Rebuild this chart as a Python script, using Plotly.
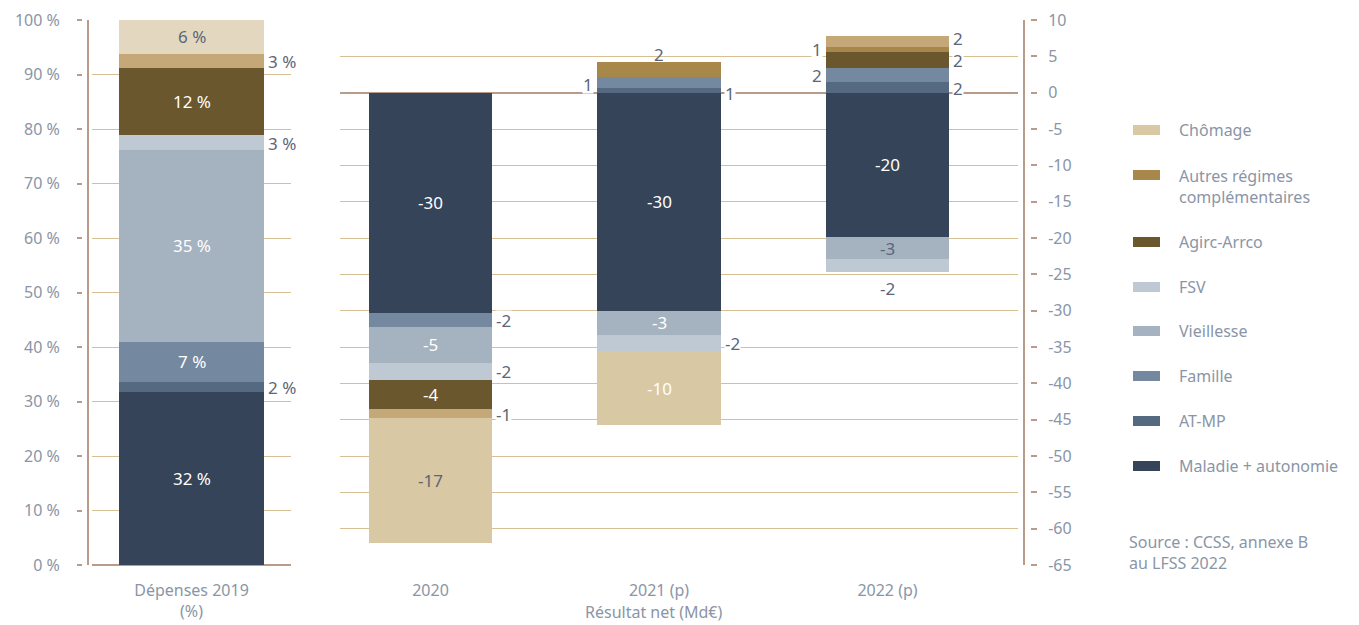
import plotly.graph_objects as go

# ---------------- data ----------------
series = ["Maladie + autonomie", "AT-MP", "Famille", "Vieillesse", "FSV",
          "Agirc-Arrco", "Autres régimes complémentaires", "Chômage"]
legend_labels = ["Maladie + autonomie", "AT-MP", "Famille", "Vieillesse", "FSV",
                 "Agirc-Arrco", "Autres régimes<br>complémentaires", "Chômage"]

left_category = ["Dépenses 2019<br>(%)"]
depenses_2019 = [31.7, 1.9, 7.4, 35.1, 2.8, 12.3, 2.6, 6.2]

years = ["2020", "2021 (p)", "2022 (p)"]
maladie = [-30.3, -30.0, -19.9]
at_mp = [0.0, 0.7, 1.5]
famille = [-1.9, 1.4, 1.9]
vieillesse = [-5.0, -3.3, -3.0]
fsv = [-2.3, -2.3, -1.8]
agirc_arrco = [-4.1, 0.0, 2.2]
autres_regimes = [-1.2, 2.1, 0.7]
chomage = [-17.2, -10.2, 1.5]
resultats = [maladie, at_mp, famille, vieillesse, fsv, agirc_arrco, autres_regimes, chomage]

right_ticks = list(range(-65, 11, 5))

source_text = "Source : CCSS, annexe B<br>au LFSS 2022"
x_title = "Résultat net (Md€)"

# ---------------- styles ----------------
W, H = 1359, 625
MT, MB = 20, 60
PH = H - MT - MB

base_colors = ["#354458", "#556980", "#74889f", "#a5b2bf", "#bfc9d3",
               "#6b572e", "#a8884a", "#d8c8a4"]
left_colors = ["#354458", "#556980", "#74889f", "#a5b2bf", "#bfc9d3",
               "#6b572e", "#c4a878", "#e3d8bf"]
right_colors = [[c] * 3 for c in base_colors]
right_colors[6] = ["#c4a878", "#a8884a", "#a8884a"]
right_colors[7] = ["#d8c8a4", "#d8c8a4", "#c4a878"]

FONT = "Noto Sans"
TICK_COL = "#8a95a6"
LABEL_COL = "#5b6679"
GRID_COL = "#d6bf93"
BROWN = "#b99b8a"

W_LEFT = 0.73
W_RIGHT = 0.54

fig = go.Figure()

for i, name in enumerate(series):
    fig.add_trace(go.Bar(x=left_category, y=[depenses_2019[i]], name=name,
                         marker=dict(color=left_colors[i], line=dict(width=0)),
                         width=W_LEFT, xaxis="x", yaxis="y", showlegend=False,
                         hoverinfo="skip"))
for i, name in enumerate(series):
    fig.add_trace(go.Bar(x=years, y=resultats[i], name=name,
                         marker=dict(color=right_colors[i], line=dict(width=0)),
                         width=W_RIGHT, xaxis="x2", yaxis="y2", showlegend=False,
                         hoverinfo="skip"))

annotations = []


def seg_bounds(values):
    """relative stacking bounds for a list of series values at one category"""
    pos, neg = 0.0, 0.0
    out = []
    for v in values:
        if v >= 0:
            out.append((pos, pos + v))
            pos += v
        else:
            out.append((neg + v, neg))
            neg += v
    return out


def add_label(xref, yref, xc, half, lo, hi, text, place, dark=False, dy=0):
    mid = (lo + hi) / 2
    a = dict(xref=xref, yref=yref, text=text, showarrow=False,
             font=dict(family=FONT, size=17, color=LABEL_COL))
    if place == "in":
        a.update(x=xc, y=mid, xanchor="center", yanchor="middle")
        a["font"]["color"] = LABEL_COL if dark else "white"
    elif place == "right":
        a.update(x=xc + half, y=mid, xanchor="left", yanchor="middle", xshift=3,
                 bgcolor="white", borderpad=0, height=18)
    elif place == "left":
        a.update(x=xc - half, y=mid, xanchor="right", yanchor="middle", xshift=-3,
                 bgcolor="white", borderpad=0, height=18)
    elif place == "above":
        a.update(x=xc, y=hi, xanchor="center", yanchor="bottom", yshift=-3, height=18)
    elif place == "below":
        a.update(x=xc, y=lo, xanchor="center", yanchor="top", yshift=-5, height=18)
    if dy:
        a["yshift"] = a.get("yshift", 0) + dy
    annotations.append(a)


# left labels
left_place = [("in", False), ("right", False), ("in", False), ("in", False),
              ("right", False), ("in", False), ("right", False), ("in", True)]
lb = seg_bounds(depenses_2019)
for i, (pl, dk) in enumerate(left_place):
    txt = f"{round(depenses_2019[i])} %"
    add_label("x", "y", 0, W_LEFT / 2, lb[i][0], lb[i][1], txt, pl, dk)

# right labels: (placement, dark text, vertical nudge px)
right_place = {
    0: {0: ("in", False, 0), 1: ("in", False, 0), 2: ("in", False, 0)},
    1: {1: ("right", False, -3), 2: ("right", False, -1)},
    2: {0: ("right", False, 0), 1: ("left", False, -2), 2: ("left", False, 0)},
    3: {0: ("in", False, 0), 1: ("in", False, 0), 2: ("in", True, 0)},
    4: {0: ("right", False, 0), 1: ("right", False, 0), 2: ("below", False, 0)},
    5: {0: ("in", False, 0), 2: ("right", False, 0)},
    6: {0: ("right", False, 0), 1: ("above", False, 0), 2: ("left", False, 0)},
    7: {0: ("in", True, 0), 1: ("in", False, 0), 2: ("right", False, 3)},
}
for j in range(len(years)):
    b = seg_bounds([resultats[i][j] for i in range(len(series))])
    for i in range(len(series)):
        if j in right_place[i]:
            pl, dk, dy = right_place[i][j]
            add_label("x2", "y2", j, W_RIGHT / 2, b[i][0], b[i][1],
                      str(round(resultats[i][j])), pl, dk, dy)


def py(pix):
    return (MT + PH - pix) / PH


# custom legend
leg_y = [466, 421, 376, 331, 287, 242, 175, 130]
for i in range(len(series)):
    yy = leg_y[i]
    fig.add_shape(type="rect", xref="paper", yref="paper",
                  x0=1133 / W, x1=1160 / W, y0=py(yy + 5), y1=py(yy - 5),
                  fillcolor=base_colors[i], line=dict(width=0))
    ty = yy + 11 if i == 6 else yy
    annotations.append(dict(xref="paper", yref="paper", x=1177 / W, y=py(ty),
                            xanchor="left", yanchor="middle", align="left",
                            text=legend_labels[i], showarrow=False,
                            font=dict(family=FONT, size=16, color=TICK_COL)))

annotations.append(dict(xref="paper", yref="paper", x=1127 / W, y=py(552),
                        xanchor="left", yanchor="middle", align="left",
                        text=source_text, showarrow=False,
                        font=dict(family=FONT, size=16, color=TICK_COL)))
annotations.append(dict(xref="paper", yref="paper", x=653 / W, y=py(612),
                        xanchor="center", yanchor="middle",
                        text=x_title, showarrow=False,
                        font=dict(family=FONT, size=16, color=TICK_COL)))

# vertical axis lines (offset from ticks)
fig.add_shape(type="line", xref="paper", yref="y", x0=88 / W, x1=88 / W, y0=0, y1=100,
              line=dict(color=BROWN, width=2))
fig.add_shape(type="line", xref="paper", yref="y2", x0=1024 / W, x1=1024 / W, y0=-65, y1=10,
              line=dict(color=BROWN, width=2))

tickfont = dict(family=FONT, size=16, color=TICK_COL)

fig.update_layout(
    width=W, height=H, autosize=False,
    margin=dict(l=0, r=0, t=MT, b=MB),
    paper_bgcolor="white", plot_bgcolor="white",
    barmode="relative", bargap=0,
    showlegend=False,
    annotations=annotations,
    xaxis=dict(domain=[92 / W, 291 / W], anchor="y", range=[-0.5, 0.5],
               showgrid=False, zeroline=False, showline=False, ticks="",
               tickfont=tickfont, ticklabelstandoff=14,
               automargin=False, fixedrange=True),
    yaxis=dict(domain=[0, 1], anchor="free", position=82 / W, side="left",
               range=[0, 100], tick0=0, dtick=10, ticksuffix=" %",
               ticks="outside", ticklen=5, tickwidth=2, tickcolor=BROWN,
               showgrid=True, gridcolor=GRID_COL, gridwidth=1,
               zeroline=True, zerolinecolor=BROWN, zerolinewidth=2,
               showline=False, tickfont=tickfont, ticklabelstandoff=14,
               automargin=False, fixedrange=True),
    xaxis2=dict(domain=[340 / W, 1018 / W], anchor="y2", type="category",
                range=[-0.396, 2.571],
                showgrid=False, zeroline=False, showline=False, ticks="",
                tickfont=tickfont, ticklabelstandoff=14,
                automargin=False, fixedrange=True),
    yaxis2=dict(domain=[0, 1], anchor="free", position=1030 / W, side="right",
                range=[-65, 10], tickmode="array", tickvals=right_ticks,
                ticktext=[str(v) for v in right_ticks],
                ticks="outside", ticklen=6, tickwidth=2, tickcolor=BROWN,
                showgrid=True, gridcolor=GRID_COL, gridwidth=1,
                zeroline=True, zerolinecolor=BROWN, zerolinewidth=1.5,
                showline=False, tickfont=tickfont, ticklabelstandoff=8,
                automargin=False, fixedrange=True),
)

fig.write_html("out.html")
